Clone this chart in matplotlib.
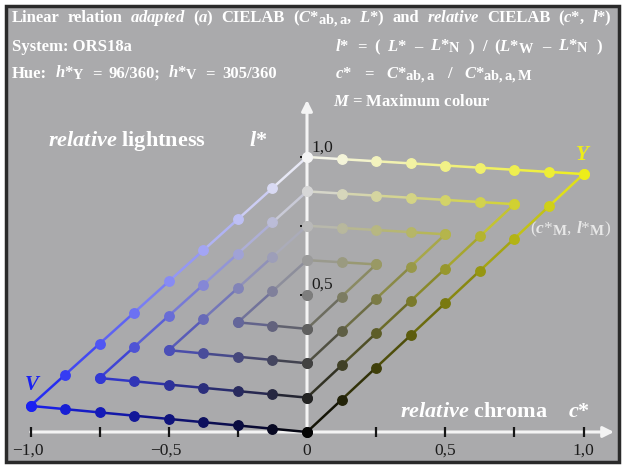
import matplotlib
matplotlib.use("Agg")
import matplotlib.pyplot as plt
import matplotlib._mathtext as _mt
from matplotlib.patches import Rectangle

_mt.SHRINK_FACTOR = 0.86   # larger subscripts, as in the reference

plt.rcParams['mathtext.fontset'] = 'custom'
plt.rcParams['mathtext.rm'] = 'Liberation Serif:bold'
plt.rcParams['mathtext.it'] = 'Liberation Serif:italic:bold'
plt.rcParams['mathtext.bf'] = 'Liberation Serif:bold'
plt.rcParams['font.family'] = ['Liberation Serif', 'DejaVu Serif']

# ---------------- data ----------------
steps = [0, 0.125, 0.25, 0.375, 0.5, 0.625, 0.75, 0.875, 1.0]   # mixing steps (1/8)
hue_names = ['V', 'Y']
hue_side = [-1, 1]                       # V on negative chroma axis, Y on positive
hue_lightness = [0.095, 0.938]           # relative lightness l*_M of maximum colour
hue_rgb = [(0.10, 0.13, 0.95), (0.93, 0.93, 0.10)]
white_rgb = (0.96, 0.96, 0.96)
black_rgb = (0.02, 0.02, 0.02)
x_ticks = [-1.0, -0.75, -0.5, -0.25, 0, 0.25, 0.5, 0.75, 1.0]
x_ticklabels = {-1.0: '\u22121,0', -0.5: '\u22120,5', 0: '0', 0.5: '0,5', 1.0: '1,0'}
y_ticks = [0.25, 0.5, 0.75, 1.0]
y_ticklabels = {1.0: '1,0', 0.5: '0,5'}

# ---------------- figure ----------------
W, H = 624, 470
fig = plt.figure(figsize=(W / 100, H / 100), dpi=100)
fig.patch.set_facecolor('white')
ax = fig.add_axes([0, 0, 1, 1])
X0, SX = 307.0, 276.5     # pixel of c=0, pixels per unit
Y0, SY = 432.0, 275.0
ax.set_xlim(-X0 / SX, (W - X0) / SX)
ax.set_ylim((Y0 - H) / SY, Y0 / SY)
ax.axis('off')


def pc(px):
    return (px - X0) / SX


def pl(py):
    return (Y0 - py) / SY


renderer = fig.canvas.get_renderer()


def justify(tokens, x0, x1, ybase, **kw):
    """Place tokens on one line spread from pixel x0 to pixel x1."""
    texts = [ax.text(0, pl(ybase), t, ha='left', **kw) for t in tokens]
    widths = [t.get_window_extent(renderer).width for t in texts]
    gap = (x1 - x0 - sum(widths)) / max(len(tokens) - 1, 1)
    x = x0
    for t, w in zip(texts, widths):
        t.set_x(pc(x))
        x += w + gap


# background panel (display coords, origin bottom-left)
ax.add_patch(Rectangle((6, H - 462), 613, 456, transform=None, facecolor='#aaaaac',
                       edgecolor='#2a2a2a', linewidth=2.5, zorder=0))

# axes lines
ax.annotate('', xy=(pc(614), 0), xytext=(-1.0, 0),
            arrowprops=dict(arrowstyle='-|>', color='#f4f4f4', lw=2.2,
                            mutation_scale=16, shrinkA=0, shrinkB=0), zorder=2)
ax.annotate('', xy=(0, pl(100)), xytext=(0, 0),
            arrowprops=dict(arrowstyle='-|>', color='#f4f4f4', lw=2.2,
                            mutation_scale=16, shrinkA=0, shrinkB=0), zorder=2)

for t in x_ticks:
    ax.plot([t, t], [pl(427), pl(437)], color='#151515', lw=1.6, zorder=3,
            solid_capstyle='butt')
for t in y_ticks:
    ax.plot([pc(300), pc(313)], [t, t], color='#151515', lw=1.4, zorder=1.5,
            solid_capstyle='butt')

for t, s in x_ticklabels.items():
    ax.text(t - (0.01 if t < 0 else 0), pl(455), s, ha='center', va='baseline',
            fontsize=12.5, color='#1c1c1c', family='Liberation Serif')
for t, s in y_ticklabels.items():
    ax.text(pc(311), t + (pl(152) - 1.0 if t == 1.0 else pl(289) - 0.5), s,
            ha='left', va='baseline', fontsize=12.5, color='#1c1c1c',
            family='Liberation Serif')


def mix(c, w, rgb):
    k = 1 - c - w
    return tuple(c * rgb[i] + w * white_rgb[i] + k * black_rgb[i] for i in range(3))


# mixing grid for both hues
n = len(steps) - 1
for side, lm, rgb in zip(hue_side, hue_lightness, hue_rgb):
    for k in range(n // 2):
        w0 = steps[k]
        # line with constant whiteness w0
        pts_a = [(steps[i], w0) for i in range(0, n - 2 * k + 1)]
        # line with constant c + w
        tot = steps[n - k]
        pts_b = [(steps[i], tot - steps[i]) for i in range(n - 2 * k, -1, -1)]
        for pts in (pts_a, pts_b):
            xs = [side * c for c, w in pts]
            ys = [c * lm + w for c, w in pts]
            cols = [mix(c, w, rgb) for c, w in pts]
            for j in range(len(pts) - 1):
                cc = tuple((cols[j][i] + cols[j + 1][i]) / 2 for i in range(3))
                ax.plot(xs[j:j + 2], ys[j:j + 2], color=cc, lw=1.8, zorder=4,
                        solid_capstyle='round')
            for x, y, col in zip(xs, ys, cols):
                ax.plot([x], [y], 'o', ms=6.8, color=col, mec=col, zorder=5)
    # centre point
    wc = steps[n // 2]
    col = mix(0, wc, rgb)
    ax.plot([0], [wc], 'o', ms=6.8, color=col, mec=col, zorder=5)

# ---------------- texts ----------------
tw = dict(color='white', family='Liberation Serif', weight='bold', va='baseline')
HF = 12.0
justify(['Linear', 'relation', r'$\mathit{adapted}$', r'$\mathit{(a)}$', 'CIELAB',
         r'($C$*$_{\mathrm{ab,a}}$,', r'$L$*)', 'and', r'$\mathit{relative}$',
         'CIELAB', r'($c$*,', r'$l$*)'], 12, 612, 22, fontsize=HF, **tw)
ax.text(pc(12), pl(51), 'System: ORS18a', fontsize=HF, **tw)
justify(['Hue:', r'$h$*$_{\mathrm{Y}}$', '=', '96/360;', r'$h$*$_{\mathrm{V}}$', '=',
         '305/360'], 12, 277, 78, fontsize=HF, **tw)
justify([r'$l$*', '=', '(', r'$L$*', '\u2013', r'$L$*$_{\mathrm{N}}$', ')', '/',
         r'($L$*$_{\mathrm{W}}$', '\u2013', r'$L$*$_{\mathrm{N}}$', ')'],
        335, 602, 51, fontsize=HF, **tw)
justify([r'$c$*', '=', r'$C$*$_{\mathrm{ab,a}}$', '/', r'$C$*$_{\mathrm{ab,a,M}}$'],
        335, 533, 78, fontsize=HF, **tw)
ax.text(pc(333), pl(106), r'$M$ = Maximum colour', fontsize=HF, **tw)

ax.text(pc(48), pl(146), r'$\mathit{relative}$ lightness', fontsize=16, **tw)
ax.text(pc(249), pl(146), r'$l$*', fontsize=16, **tw)
ax.text(pc(400), pl(417), r'$\mathit{relative}$ chroma', fontsize=16, **tw)
ax.text(pc(568), pl(417), r'$c$*', fontsize=16, **tw)

ax.text(pc(24), pl(390), r'$V$', fontsize=15, color=hue_rgb[0],
        family='Liberation Serif', weight='bold', va='baseline')
ax.text(pc(575), pl(160), r'$Y$', fontsize=15, color=hue_rgb[1],
        family='Liberation Serif', weight='bold', va='baseline')
justify([r'($c$*$_{\mathrm{M}}$,', r'$l$*$_{\mathrm{M}}$)'], 530, 611, 233,
        fontsize=12.5, color='#e8e8e8', family='Liberation Serif', va='baseline')

fig.savefig('out.png', dpi=100, facecolor=fig.get_facecolor())
